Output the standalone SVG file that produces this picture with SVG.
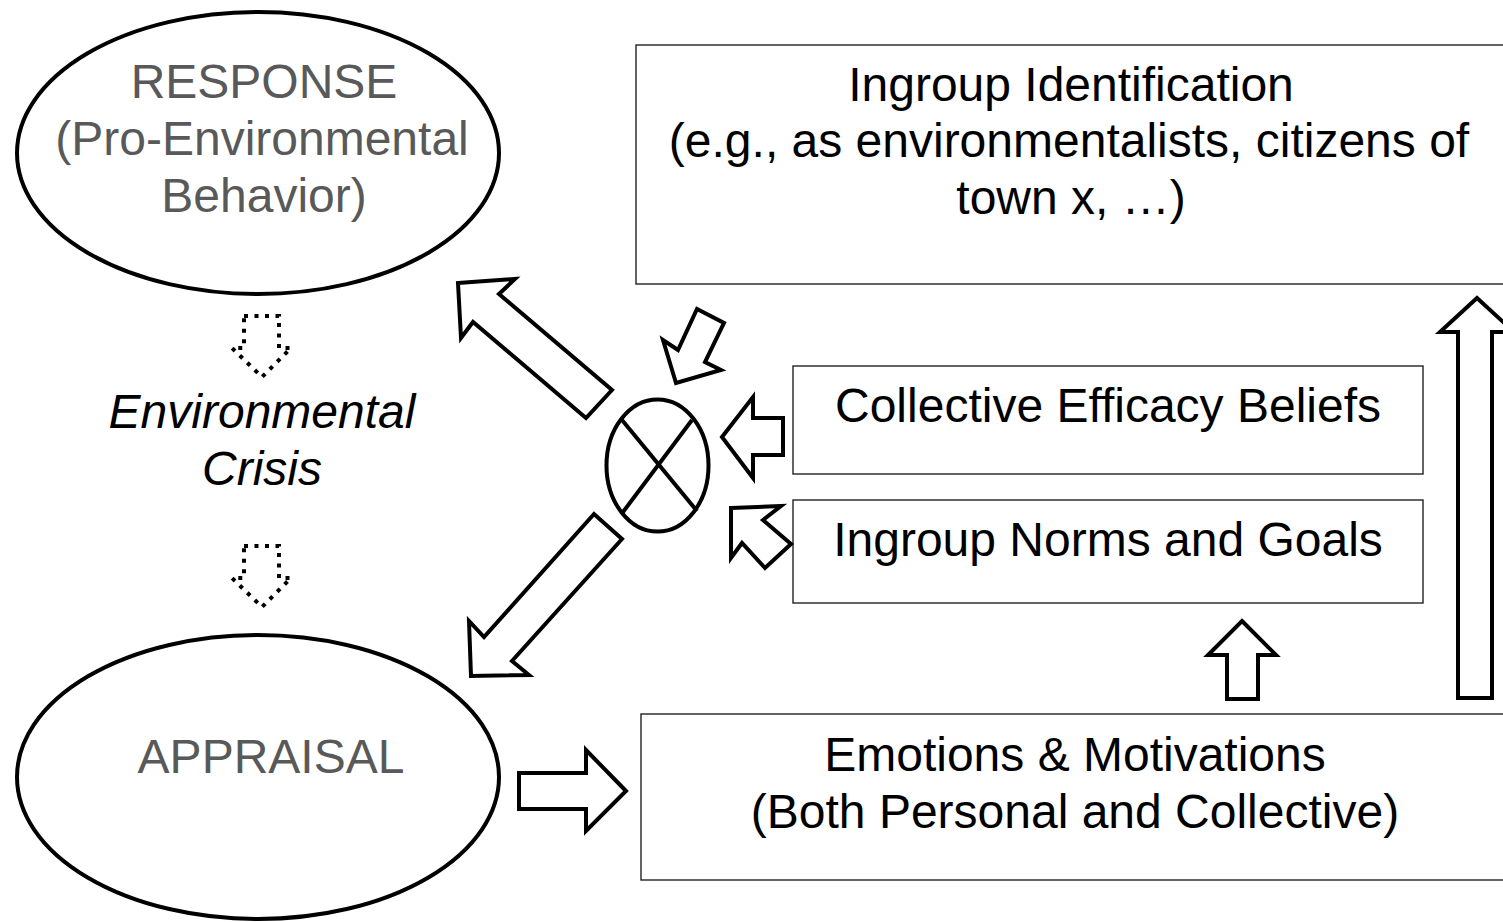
<svg xmlns="http://www.w3.org/2000/svg" width="1503" height="922" viewBox="0 0 1503 922">
<style>
text{font-family:"Liberation Sans",Arial,sans-serif;font-size:48px;text-anchor:middle}
.g{fill:#595959}
.k{fill:#000}
.it{font-style:italic}
.ell{fill:#fff;stroke:#000;stroke-width:4}
.box{fill:#fff;stroke:#222;stroke-width:1.4}
.blk{fill:#fff;stroke:#000;stroke-width:4;stroke-linejoin:miter}
.dot{fill:none;stroke:#000;stroke-width:4;stroke-dasharray:4 6.5}
</style>
<rect width="1503" height="922" fill="#fff"/>
<g id="response">
<ellipse class="ell" cx="258" cy="153" rx="241" ry="141"/>
<text class="g" x="264" y="98">RESPONSE</text>
<text class="g" x="262" y="155">(Pro-Environmental</text>
<text class="g" x="264" y="212">Behavior)</text>
</g>
<g id="crisis">
<text class="k it" x="262" y="428">Environmental</text>
<text class="k it" x="262" y="485">Crisis</text>
</g>
<g id="appraisal">
<ellipse class="ell" cx="258" cy="777" rx="241" ry="142"/>
<text class="g" x="271" y="773">APPRAISAL</text>
</g>
<g id="ingroup-identification">
<rect class="box" x="636" y="45" width="880" height="239"/>
<text class="k" x="1071" y="101">Ingroup Identification</text>
<text class="k" x="1069" y="157">(e.g., as environmentalists, citizens of</text>
<text class="k" x="1071" y="214">town x, …)</text>
</g>
<g id="collective-efficacy">
<rect class="box" x="793" y="366" width="630" height="108"/>
<text class="k" x="1108" y="422">Collective Efficacy Beliefs</text>
</g>
<g id="ingroup-norms">
<rect class="box" x="793" y="500" width="630" height="103"/>
<text class="k" x="1108" y="556">Ingroup Norms and Goals</text>
</g>
<g id="emotions">
<rect class="box" x="641" y="714" width="880" height="166"/>
<text class="k" x="1075" y="771">Emotions &amp; Motivations</text>
<text class="k" x="1075" y="828">(Both Personal and Collective)</text>
</g>
<g id="combiner">
<ellipse class="ell" cx="657.5" cy="465.5" rx="51" ry="66"/>
<line x1="622" y1="420" x2="697" y2="511" stroke="#000" stroke-width="4"/>
<line x1="692" y1="420" x2="623" y2="512" stroke="#000" stroke-width="4"/>
</g>
<g id="connectors">
<path class="dot" d="M244,316 H279 V348 H291 L262,377 L232,348 H244 Z"/>
<path class="dot" d="M244,546 H279 V578 H291 L262,607 L232,578 H244 Z"/>
<polygon class="blk" points="458,283 515,279 499,294 612,390 586,418 473,322 461,338"/>
<polygon class="blk" points="471,676 469,621 484,637 594,514 622,539 512,661 529,675"/>
<polygon class="blk" points="676,383 663,340 678,350 697,309 724,323 705,362 721,370"/>
<polygon class="blk" points="722,437 753,397 753,418 783,418 783,455 753,455 753,478"/>
<polygon class="blk" points="731,508 781,506 763,520 791,544 765,568 742,543 731,558"/>
<polygon class="blk" points="626,791 586,750 586,773 519,773 519,809 586,809 586,831"/>
<polygon class="blk" points="1242,621 1276,655 1258,655 1258,699 1227,699 1227,655 1208,655"/>
<polygon class="blk" points="1477,298 1514,332 1492,332 1492,698 1458,698 1458,332 1440,332"/>
</g>
</svg>
